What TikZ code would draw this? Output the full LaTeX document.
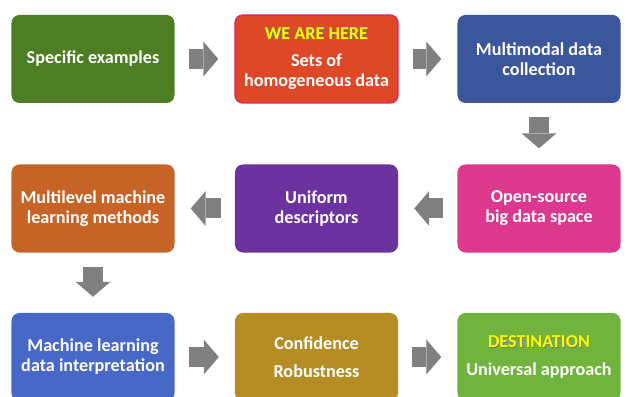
\documentclass[tikz,border=0pt]{standalone}
\usepackage{fontspec}
\setmainfont{Carlito}
\usetikzlibrary{arrows.meta}

% colori dei riquadri
\definecolor{verdescuro}{RGB}{78,126,35}
\definecolor{rosso}{RGB}{222,72,38}
\definecolor{bordorosa}{RGB}{226,32,96}
\definecolor{blunotte}{RGB}{60,86,155}
\definecolor{fucsia}{RGB}{220,56,142}
\definecolor{viola}{RGB}{108,50,160}
\definecolor{arancio}{RGB}{198,100,40}
\definecolor{azzurro}{RGB}{72,104,200}
\definecolor{senape}{RGB}{181,141,36}
\definecolor{verdechiaro}{RGB}{112,180,62}
\definecolor{giallo}{RGB}{255,255,0}
\definecolor{grigio}{RGB}{128,128,128}

\begin{document}
\begin{tikzpicture}[x=0.03cm, y=-0.03cm,
    box/.style={rounded corners=0.24cm, minimum width=4.89cm, minimum height=2.64cm,
                inner sep=0pt, align=center, text=white,
                font=\fontsize{15.5}{17}\selectfont\bfseries},
    freccia/.style={draw=grigio, line width=0.6cm,
                -{Triangle[width=1.05cm,length=0.45cm,line width=0pt]},
                shorten <=0.42cm, shorten >=0.48cm}]

    % Testo giallo con ombra
    \def\ombra#1{%
        \makebox[0pt][l]{\raisebox{-0.7pt}{\hspace{0.7pt}\textcolor{black!55}{#1}}}\textcolor{giallo}{#1}%
    }

    \useasboundingbox (0,0) rectangle (630,397);

    % -- Prima riga --
    \node[box, fill=verdescuro] (esempi) at (93,59) {Specific examples};
    \node[box, fill=rosso, draw=bordorosa, line width=1.2pt] (qui) at (316.5,59)
        {\ombra{WE ARE HERE}\\[6pt]Sets of\\homogeneous data};
    \node[box, fill=blunotte] (multimodale) at (539,59) {Multimodal data\\collection};

    % -- Seconda riga (da destra a sinistra) --
    \node[box, fill=fucsia] (opensource) at (539,208.5) {Open-source\\big data space};
    \node[box, fill=viola] (descrittori) at (316.5,208.5) {Uniform\\descriptors};
    \node[box, fill=arancio] (multilivello) at (93,208.5) {Multilevel machine\\learning methods};

    % -- Terza riga --
    \node[box, fill=azzurro] (interpretazione) at (93,357) {Machine learning\\data interpretation};
    \node[box, fill=senape] (confidenza) at (316.5,357) {Confidence\\[7pt]Robustness};
    \node[box, fill=verdechiaro] (destinazione) at (539,357)
        {\ombra{DESTINATION}\\[7pt]Universal approach};

    % Frecce grigie
    \draw[freccia] (esempi.east) -- (qui.west);
    \draw[freccia] (qui.east) -- (multimodale.west);
    \draw[freccia] (multimodale.south) -- (opensource.north);
    \draw[freccia] (opensource.west) -- (descrittori.east);
    \draw[freccia] (descrittori.west) -- (multilivello.east);
    \draw[freccia] (multilivello.south) -- (interpretazione.north);
    \draw[freccia] (interpretazione.east) -- (confidenza.west);
    \draw[freccia] (confidenza.east) -- (destinazione.west);

\end{tikzpicture}
\end{document}
